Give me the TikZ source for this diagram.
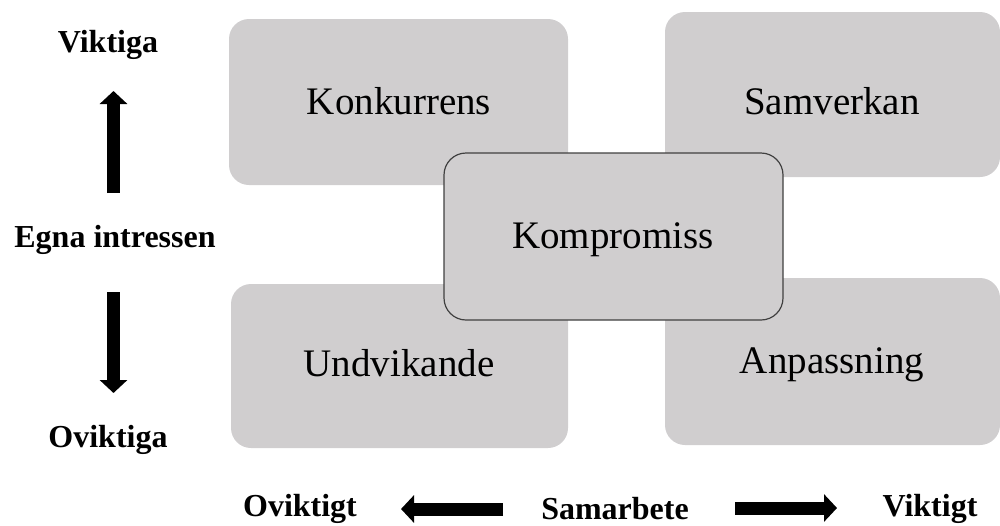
\documentclass[tikz,border=0pt]{standalone}
\usepackage{fontspec}
\setmainfont{Liberation Serif}
\usetikzlibrary{arrows.meta}
\definecolor{boxgray}{HTML}{D0CECF}
\begin{document}
\begin{tikzpicture}[x=1pt,y=-1pt,
  quad/.style={fill=boxgray, rounded corners=20pt},
  mid/.style={fill=boxgray, draw=black!75, line width=1.2pt, rounded corners=22pt},
  boxtext/.style={font=\fontsize{39}{44}\selectfont, anchor=center},
  lab/.style={font=\fontsize{32}{36}\selectfont\bfseries, anchor=center},
  bigarrow/.style={line width=13pt, -{Triangle[length=13pt,width=27pt]}}]
\useasboundingbox (0,0) rectangle (1000,525);
% quadrant boxes
\path[quad] (229,19) rectangle (568,185);
\path[quad] (665,12) rectangle (1000,177);
\path[quad] (231,284) rectangle (568,448);
\path[quad] (665,278) rectangle (1000,445);
\node[boxtext] (konk) at (399,101) {Konkurrens};
\node[boxtext] (samv) at (832,101) {Samverkan};
\node[boxtext] (undv) at (399,363) {Undvikande};
\node[boxtext] (anpa) at (832,365) {Anpassning};
% middle box
\path[mid] (444,153) rectangle (783,320);
\node[boxtext] (komp) at (613,240) {Kompromiss};
% side labels
\node[lab] (vikt) at (108,45) {Viktiga};
\node[lab] (egna) at (115,240) {Egna intressen};
\node[lab] (ovikt) at (108,440) {Oviktiga};
\node[lab] (ovig) at (300,509) {Oviktigt};
\node[lab] (sama) at (615,509) {Samarbete};
\node[lab] (vig) at (930,509) {Viktigt};
% arrows
\coordinate (u1) at (113.5,193);
\coordinate (u2) at (113.5,91);
\coordinate (d1) at (113.5,292);
\coordinate (d2) at (113.5,393);
\coordinate (l1) at (503,509);
\coordinate (l2) at (401,509);
\coordinate (r1) at (735,508);
\coordinate (r2) at (837,508);
\draw[bigarrow] (u1) -- (u2);
\draw[bigarrow] (d1) -- (d2);
\draw[bigarrow] (l1) -- (l2);
\draw[bigarrow] (r1) -- (r2);
\end{tikzpicture}
\end{document}
